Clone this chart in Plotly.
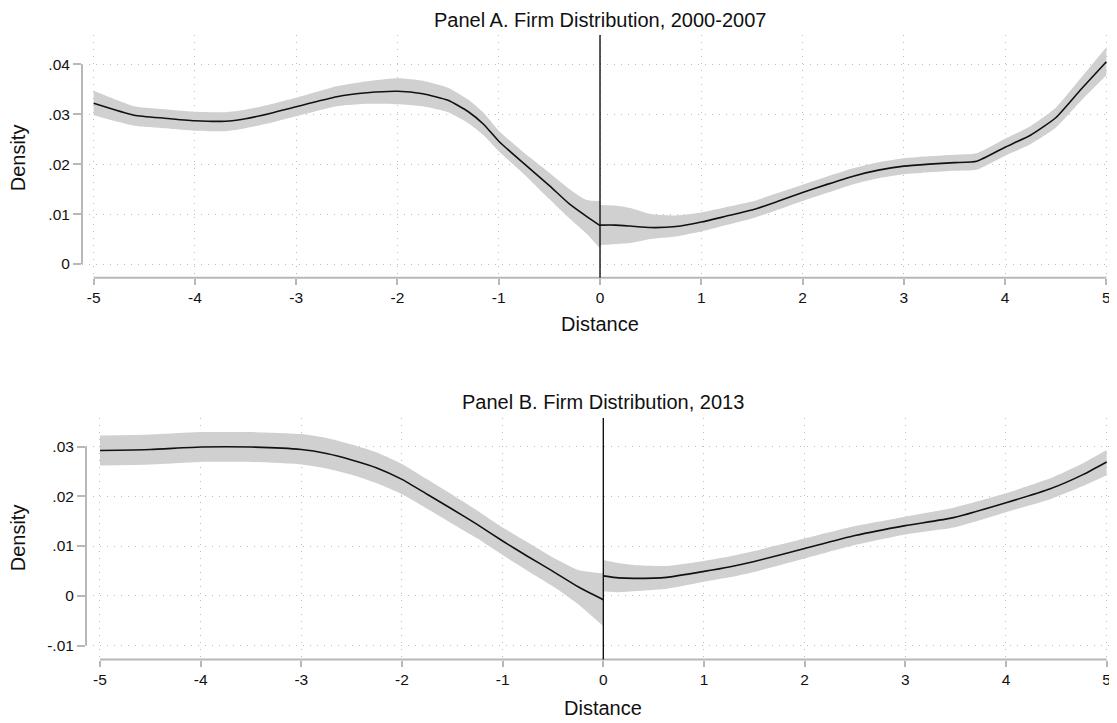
import plotly.graph_objects as go

# ---------------- data ----------------
# Panel A (2000-2007), left of cutoff
xA_left = [-5, -4.6, -4.3, -4, -3.7, -3.5, -3.25, -3, -2.6, -2.3, -2, -1.75, -1.5, -1.3, -1.15, -1, -0.75, -0.5, -0.3, -0.13, 0]
yA_left = [0.0322, 0.0298, 0.0292, 0.0287, 0.0286, 0.0291, 0.0302, 0.0315, 0.0335, 0.0343, 0.0346, 0.0341, 0.0328, 0.0305, 0.0280, 0.0246, 0.0201, 0.0157, 0.0120, 0.0095, 0.0077]
upA_left = [0.0347, 0.0316, 0.0310, 0.0305, 0.0304, 0.0309, 0.0320, 0.0333, 0.0356, 0.0366, 0.0372, 0.0367, 0.0353, 0.0329, 0.0303, 0.0267, 0.0223, 0.0183, 0.0150, 0.0128, 0.0126]
loA_left = [0.0298, 0.0277, 0.0272, 0.0267, 0.0266, 0.0272, 0.0283, 0.0296, 0.0316, 0.0321, 0.0320, 0.0316, 0.0304, 0.0282, 0.0258, 0.0226, 0.0180, 0.0130, 0.0091, 0.0060, 0.0031]

# Panel A, right of cutoff
xA_right = [0, 0.15, 0.3, 0.5, 0.75, 1.0, 1.25, 1.5, 1.75, 2.0, 2.25, 2.5, 2.75, 3.0, 3.25, 3.5, 3.72, 4.0, 4.25, 4.5, 4.75, 5.0]
yA_right = [0.0078, 0.0078, 0.0076, 0.0073, 0.0075, 0.0084, 0.0096, 0.0108, 0.0125, 0.0143, 0.0160, 0.0176, 0.0188, 0.0196, 0.0200, 0.0203, 0.0206, 0.0234, 0.0258, 0.0293, 0.0350, 0.0405]
upA_right = [0.0118, 0.0117, 0.0112, 0.0100, 0.0097, 0.0103, 0.0114, 0.0125, 0.0142, 0.0159, 0.0176, 0.0192, 0.0204, 0.0212, 0.0216, 0.0219, 0.0222, 0.0251, 0.0276, 0.0313, 0.0373, 0.0434]
loA_right = [0.0038, 0.0040, 0.0042, 0.0050, 0.0055, 0.0065, 0.0078, 0.0091, 0.0108, 0.0126, 0.0143, 0.0160, 0.0172, 0.0180, 0.0184, 0.0187, 0.0189, 0.0217, 0.0240, 0.0273, 0.0327, 0.0378]

# Panel B (2013), left of cutoff
xB_left = [-5, -4.5, -4, -3.5, -3, -2.75, -2.5, -2.25, -2, -1.75, -1.5, -1.25, -1.0, -0.75, -0.5, -0.25, 0]
yB_left = [0.0292, 0.0294, 0.0299, 0.0299, 0.0294, 0.0286, 0.0273, 0.0257, 0.0234, 0.0204, 0.0174, 0.0143, 0.0110, 0.0079, 0.0049, 0.0018, -0.0008]
upB_left = [0.0322, 0.0324, 0.0329, 0.0329, 0.0325, 0.0317, 0.0304, 0.0288, 0.0265, 0.0234, 0.0203, 0.0171, 0.0137, 0.0107, 0.0077, 0.0052, 0.0045]
loB_left = [0.0262, 0.0264, 0.0269, 0.0269, 0.0264, 0.0256, 0.0243, 0.0226, 0.0204, 0.0175, 0.0145, 0.0115, 0.0082, 0.0050, 0.0019, -0.0017, -0.0061]

# Panel B, right of cutoff
xB_right = [0, 0.15, 0.3, 0.63, 1.0, 1.25, 1.5, 2.0, 2.5, 3.0, 3.48, 4.0, 4.44, 4.77, 5.0]
yB_right = [0.0040, 0.0036, 0.0035, 0.0037, 0.0049, 0.0058, 0.0069, 0.0095, 0.0121, 0.0141, 0.0157, 0.0187, 0.0215, 0.0244, 0.0269]
upB_right = [0.0072, 0.0066, 0.0062, 0.0060, 0.0070, 0.0079, 0.0090, 0.0115, 0.0140, 0.0159, 0.0177, 0.0206, 0.0236, 0.0267, 0.0293]
loB_right = [0.0009, 0.0007, 0.0009, 0.0014, 0.0028, 0.0037, 0.0048, 0.0075, 0.0102, 0.0123, 0.0137, 0.0168, 0.0194, 0.0221, 0.0242]

x_ticks = [-5, -4, -3, -2, -1, 0, 1, 2, 3, 4, 5]
x_ticktext = ["-5", "-4", "-3", "-2", "-1", "0", "1", "2", "3", "4", "5"]
yA_ticks = [0, 0.01, 0.02, 0.03, 0.04]
yA_ticktext = ["0", ".01", ".02", ".03", ".04"]
yB_ticks = [-0.01, 0, 0.01, 0.02, 0.03]
yB_ticktext = ["-.01", "0", ".01", ".02", ".03"]

title_A = "Panel A. Firm Distribution, 2000-2007"
title_B = "Panel B. Firm Distribution, 2013"
x_title = "Distance"
y_title = "Density"

# ---------------- figure ----------------
W, H = 1117, 723
OFF = 8  # page body margin in the browser
FONT = "Liberation Sans, Arial, Helvetica, sans-serif"
BAND = "#d0d0d0"
AXC = "#b8b8b8"
GRID = "#bdbdbd"
SMOOTH = 0.5

fig = go.Figure()


def add_segment(x, y, lo, up, xa, ya):
    fig.add_trace(go.Scatter(x=x, y=lo, mode="lines", line=dict(width=0, shape="spline", smoothing=SMOOTH),
                             xaxis=xa, yaxis=ya, showlegend=False, hoverinfo="skip"))
    fig.add_trace(go.Scatter(x=x, y=up, mode="lines", line=dict(width=0, shape="spline", smoothing=SMOOTH),
                             fill="tonexty", fillcolor=BAND,
                             xaxis=xa, yaxis=ya, showlegend=False, hoverinfo="skip"))


add_segment(xA_left, yA_left, loA_left, upA_left, "x", "y")
add_segment(xA_right, yA_right, loA_right, upA_right, "x", "y")
add_segment(xB_left, yB_left, loB_left, upB_left, "x2", "y2")
add_segment(xB_right, yB_right, loB_right, upB_right, "x2", "y2")

for x, y, xa, ya in [(xA_left, yA_left, "x", "y"), (xA_right, yA_right, "x", "y"),
                     (xB_left, yB_left, "x2", "y2"), (xB_right, yB_right, "x2", "y2")]:
    fig.add_trace(go.Scatter(x=x, y=y, mode="lines",
                             line=dict(color="#111111", width=1.6, shape="spline", smoothing=SMOOTH),
                             xaxis=xa, yaxis=ya, showlegend=False))


def px_x(p):
    return (p - OFF) / W


def px_y(p):
    return 1 - (p - OFF) / H


common_x = dict(tickmode="array", tickvals=x_ticks, ticktext=x_ticktext, ticks="outside", ticklen=6,
                tickwidth=2, tickcolor=AXC, showline=False, zeroline=False, showgrid=True,
                gridcolor=GRID, gridwidth=1.3, griddash="1px,6px",
                tickfont=dict(family=FONT, size=15.5, color="#111111"))
common_y = dict(tickmode="array", ticks="outside", ticklen=8, tickwidth=2, tickcolor=AXC,
                showline=False, zeroline=False, showgrid=True, gridcolor=GRID, gridwidth=1.3,
                griddash="1px,6px", tickfont=dict(family=FONT, size=15.5, color="#111111"))

fig.update_layout(
    width=W, height=H,
    margin=dict(l=0, r=0, t=0, b=0),
    paper_bgcolor="white", plot_bgcolor="white",
    xaxis=dict(domain=[px_x(82), px_x(1115)], range=[-5.115, 5.085], anchor="y", **common_x),
    yaxis=dict(domain=[px_y(277.7), px_y(35)], range=[-0.00274, 0.04587], anchor="x",
               tickvals=yA_ticks, ticktext=yA_ticktext, **common_y),
    xaxis2=dict(domain=[px_x(86), px_x(1115)], range=[-5.139, 5.083], anchor="y2", **common_x),
    yaxis2=dict(domain=[px_y(659.5), px_y(418)], range=[-0.01281, 0.03573], anchor="x2",
                tickvals=yB_ticks, ticktext=yB_ticktext, **common_y),
)

shapes = []
# axis lines (Stata-style, spanning only the tick range)
shapes.append(dict(type="line", xref="x domain", yref="y", x0=0, x1=0, y0=yA_ticks[0], y1=yA_ticks[-1],
                   line=dict(color=AXC, width=2), layer="above"))
shapes.append(dict(type="line", xref="x", yref="y domain", x0=x_ticks[0], x1=x_ticks[-1], y0=0, y1=0,
                   line=dict(color=AXC, width=2), layer="above"))
shapes.append(dict(type="line", xref="x2 domain", yref="y2", x0=0, x1=0, y0=yB_ticks[0], y1=yB_ticks[-1],
                   line=dict(color=AXC, width=2), layer="above"))
shapes.append(dict(type="line", xref="x2", yref="y2 domain", x0=x_ticks[0], x1=x_ticks[-1], y0=0, y1=0,
                   line=dict(color=AXC, width=2), layer="above"))
# cutoff lines
shapes.append(dict(type="line", xref="x", yref="y domain", x0=0, x1=0, y0=0, y1=1,
                   line=dict(color="#111111", width=1.4), layer="above"))
shapes.append(dict(type="line", xref="x2", yref="y2 domain", x0=0, x1=0, y0=0, y1=1,
                   line=dict(color="#111111", width=1.4), layer="above"))
fig.update_layout(shapes=shapes)

ann = []


def add_text(text, x, y, size, angle=0):
    ann.append(dict(text=text, xref="paper", yref="paper", x=px_x(x), y=px_y(y), xanchor="center",
                    yanchor="middle", showarrow=False, textangle=angle,
                    font=dict(family=FONT, size=size, color="#111111")))


add_text(title_A, 600, 20, 20)
add_text(title_B, 603, 401.7, 20)
add_text(x_title, 600, 324.3, 20)
add_text(x_title, 603, 708, 20)
add_text(y_title, 18.3, 158, 20, -90)
add_text(y_title, 18.3, 538, 20, -90)
fig.update_layout(annotations=ann)

fig.write_html("out.html")
